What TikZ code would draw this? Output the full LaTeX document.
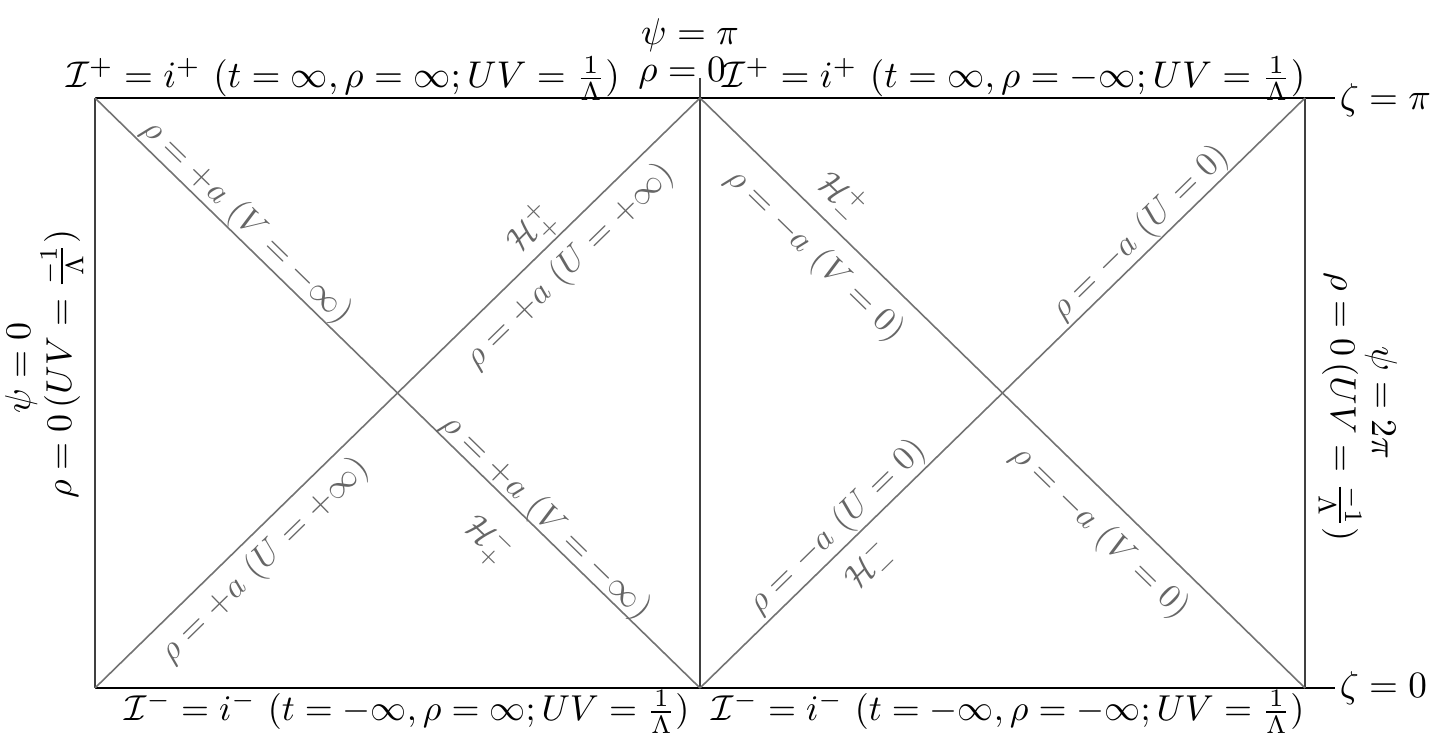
\documentclass[tikz,border=0pt]{standalone}
\usepackage{amsmath}
\begin{document}
\begin{tikzpicture}[x=0.25pt,y=-0.25pt,
  frame/.style={line width=0.6pt,black},
  side/.style={line width=0.5pt,black!75},
  diag/.style={line width=0.4pt,black!55},
  dlab/.style={text=black!60,inner sep=0pt,scale=0.85},
  lab/.style={inner sep=0pt,scale=0.93},
  blab/.style={inner sep=0pt,scale=0.9},
  slab/.style={inner sep=0pt,scale=0.9}]
\useasboundingbox (0,0) rectangle (1435,735);
\coordinate (TL) at (95,98);
\coordinate (TM) at (700,98);
\coordinate (TR) at (1305,98);
\coordinate (BL) at (95,688);
\coordinate (BM) at (700,688);
\coordinate (BR) at (1305,688);
\coordinate (TE) at (1335,98);
\coordinate (BE) at (1335,688);
\coordinate (TT) at (700,78);
% frame
\draw[frame] (TL) -- (TE);
\draw[frame] (BL) -- (BE);
\draw[side] (TL) -- (BL);
\draw[side] (TR) -- (BR);
\draw[side] (TT) -- (BM);
% diagonals
\draw[diag] (TL) -- (BM);
\draw[diag] (BL) -- (TM);
\draw[diag] (TM) -- (BR);
\draw[diag] (BM) -- (TR);
% top and bottom labels
\node[lab,anchor=base] (ip1) at (343,88) {$\mathcal{I}^+ = i^+\ (t=\infty,\rho=\infty;UV=\frac{1}{\Lambda})$};
\node[lab,anchor=base] (ip2) at (1014,88) {$\mathcal{I}^+ = i^+\ (t=\infty,\rho=-\infty;UV=\frac{1}{\Lambda})$};
\node[lab,anchor=base] (psipi) at (690,45) {$\psi=\pi$};
\node[lab,anchor=base] (rho0) at (682,82) {$\rho=0$};
\node[blab,anchor=base] (im1) at (407,721) {$\mathcal{I}^- = i^-\ (t=-\infty,\rho=\infty;UV=\frac{1}{\Lambda})$};
\node[blab,anchor=base] (im2) at (1008,721) {$\mathcal{I}^- = i^-\ (t=-\infty,\rho=-\infty;UV=\frac{1}{\Lambda})$};
\node[lab,anchor=west] (zpi) at (1339,100) {$\zeta=\pi$};
\node[lab,anchor=west] (z0) at (1339,688) {$\zeta=0$};
% side labels
\node[slab,rotate=90] (lrho) at (62,364) {$\rho=0\,(UV=\frac{-1}{\Lambda})$};
\node[slab,rotate=90] (lpsi) at (21,368) {$\psi=0$};
\node[slab,rotate=-90] (rrho) at (1340,407) {$\rho=0\,(UV=\frac{-1}{\Lambda})$};
\node[slab,rotate=-90] (rpsi) at (1381,403) {$\psi=2\pi$};
% diagonal labels, left square
\node[dlab,rotate=-44.3] (d1) at (247,222) {$\rho=+a\ (V=-\infty)$};
\node[dlab,rotate=44.3] (h1) at (532,230) {$\mathcal{H}^+_+$};
\node[dlab,rotate=44.3] (d2) at (570,266) {$\rho=+a\ (U=+\infty)$};
\node[dlab,rotate=-44.3] (d3) at (546,517) {$\rho=+a\ (V=-\infty)$};
\node[dlab,rotate=-44.3] (h2) at (487,540) {$\mathcal{H}^-_+$};
\node[dlab,rotate=44.3] (d4) at (265,560) {$\rho=+a\ (U=+\infty)$};
% diagonal labels, right square
\node[dlab,rotate=-44.3] (h3) at (840,197) {$\mathcal{H}^+_-$};
\node[dlab,rotate=-44.3] (d5) at (815,255) {$\rho=-a\ (V=0)$};
\node[dlab,rotate=44.3] (d6) at (1140,233) {$\rho=-a\ (U=0)$};
\node[dlab,rotate=44.3] (d7) at (837,527) {$\rho=-a\ (U=0)$};
\node[dlab,rotate=44.3] (h4) at (870,567) {$\mathcal{H}^-_-$};
\node[dlab,rotate=-44.3] (d8) at (1100,532) {$\rho=-a\ (V=0)$};
\end{tikzpicture}
\end{document}
